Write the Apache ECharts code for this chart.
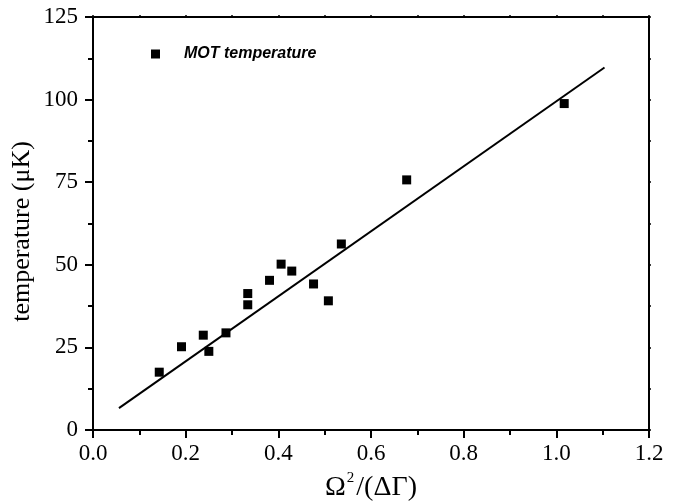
<!DOCTYPE html>
<html>
<head>
<meta charset="utf-8">
<script src="https://cdn.jsdelivr.net/npm/echarts@6/dist/echarts.min.js"></script>
<style>html,body{margin:0;padding:0;background:#fff}#c{width:678px;height:504px}</style>
</head>
<body>
<div id="c"></div>
<script>
var xValues = [0.143, 0.191, 0.238, 0.250, 0.287, 0.334, 0.334, 0.381, 0.406, 0.429, 0.476, 0.508, 0.536, 0.677, 1.017];
var yValues = [17.5, 25.2, 28.7, 23.8, 29.4, 41.3, 37.9, 45.3, 50.2, 48.1, 44.2, 39.1, 56.3, 75.7, 98.8];
var fitX = [0.056, 1.104];
var fitY = [6.6, 109.7];
var seriesName = 'MOT temperature';
var xTitle = '{m|Ω}{sup|2}{m|/(ΔΓ)}';
var yTitle = 'temperature (μK)';

var pts = xValues.map(function (x, i) { return [x, yValues[i]]; });
var fit = fitX.map(function (x, i) { return [x, fitY[i]]; });

var serif = '"Liberation Serif", "Times New Roman", serif';
var axisLine = { show: true, onZero: false, lineStyle: { color: '#000', width: 2 } };
var chart = echarts.init(document.getElementById('c'));
chart.setOption({
  animation: false,
  backgroundColor: '#fff',
  grid: { left: 93, right: 29, top: 17, bottom: 74, outerBoundsMode: 'none', containLabel: false, show: true, borderColor: '#000', borderWidth: 2, backgroundColor: 'transparent' },
  legend: {
    left: 146, top: 41,
    data: [{ name: seriesName, icon: 'rect', itemStyle: { color: '#000', opacity: 1 } }],
    itemWidth: 9, itemHeight: 9,
    textStyle: { fontFamily: 'Liberation Sans', fontWeight: 'bold', fontStyle: 'italic', fontSize: 16, color: '#000', padding: [0, 0, 0, 19] }
  },
  xAxis: [{
    type: 'value', min: 0, max: 1.2, interval: 0.2, position: 'bottom',
    axisLine: axisLine,
    axisTick: { show: true, length: 8, lineStyle: { color: '#000', width: 2 } },
    minorTick: { show: true, splitNumber: 2, length: 5, lineStyle: { color: '#000', width: 2 } },
    splitLine: { show: false },
    axisLabel: { margin: 12, fontFamily: serif, fontSize: 23, color: '#000', formatter: function (v) { return v.toFixed(1); } },
    name: xTitle, nameLocation: 'middle', nameGap: 41,
    nameTextStyle: {
      fontFamily: serif, fontSize: 28, color: '#000',
      rich: {
        m: { fontFamily: serif, fontSize: 28, color: '#000', lineHeight: 34 },
        sup: { fontFamily: serif, fontSize: 15, color: '#000', lineHeight: 15, verticalAlign: 'top', padding: [0, 2, 0, 1] }
      }
    }
  }, {
    type: 'value', min: 0, max: 1.2, interval: 0.1, position: 'top',
    axisLine: axisLine,
    axisTick: { show: true, length: 2, lineStyle: { color: '#000', width: 1.5 } },
    splitLine: { show: false }, axisLabel: { show: false }
  }],
  yAxis: [{
    type: 'value', min: 0, max: 125, interval: 25, position: 'left',
    axisLine: axisLine,
    axisTick: { show: true, length: 8, lineStyle: { color: '#000', width: 2 } },
    minorTick: { show: true, splitNumber: 2, length: 5, lineStyle: { color: '#000', width: 2 } },
    splitLine: { show: false },
    axisLabel: { margin: 15, fontFamily: serif, fontSize: 23, color: '#000' },
    name: yTitle, nameLocation: 'middle', nameGap: 58, nameMoveOverlap: false,
    nameTextStyle: { fontFamily: serif, fontSize: 26, color: '#000', padding: [0, 16, 0, 0] }
  }, {
    type: 'value', min: 0, max: 125, interval: 12.5, position: 'right',
    axisLine: axisLine,
    axisTick: { show: true, length: 2, lineStyle: { color: '#000', width: 1.5 } },
    splitLine: { show: false }, axisLabel: { show: false }
  }],
  series: [{
    name: seriesName, type: 'scatter', data: pts,
    xAxisIndex: 0, yAxisIndex: 0,
    symbol: 'rect', symbolSize: 9,
    itemStyle: { color: '#000', opacity: 1 }, z: 3
  }, {
    name: 'fit', type: 'line', data: fit,
    xAxisIndex: 1, yAxisIndex: 1,
    symbol: 'none', lineStyle: { color: '#000', width: 2 }, z: 2
  }]
});
</script>
</body>
</html>
